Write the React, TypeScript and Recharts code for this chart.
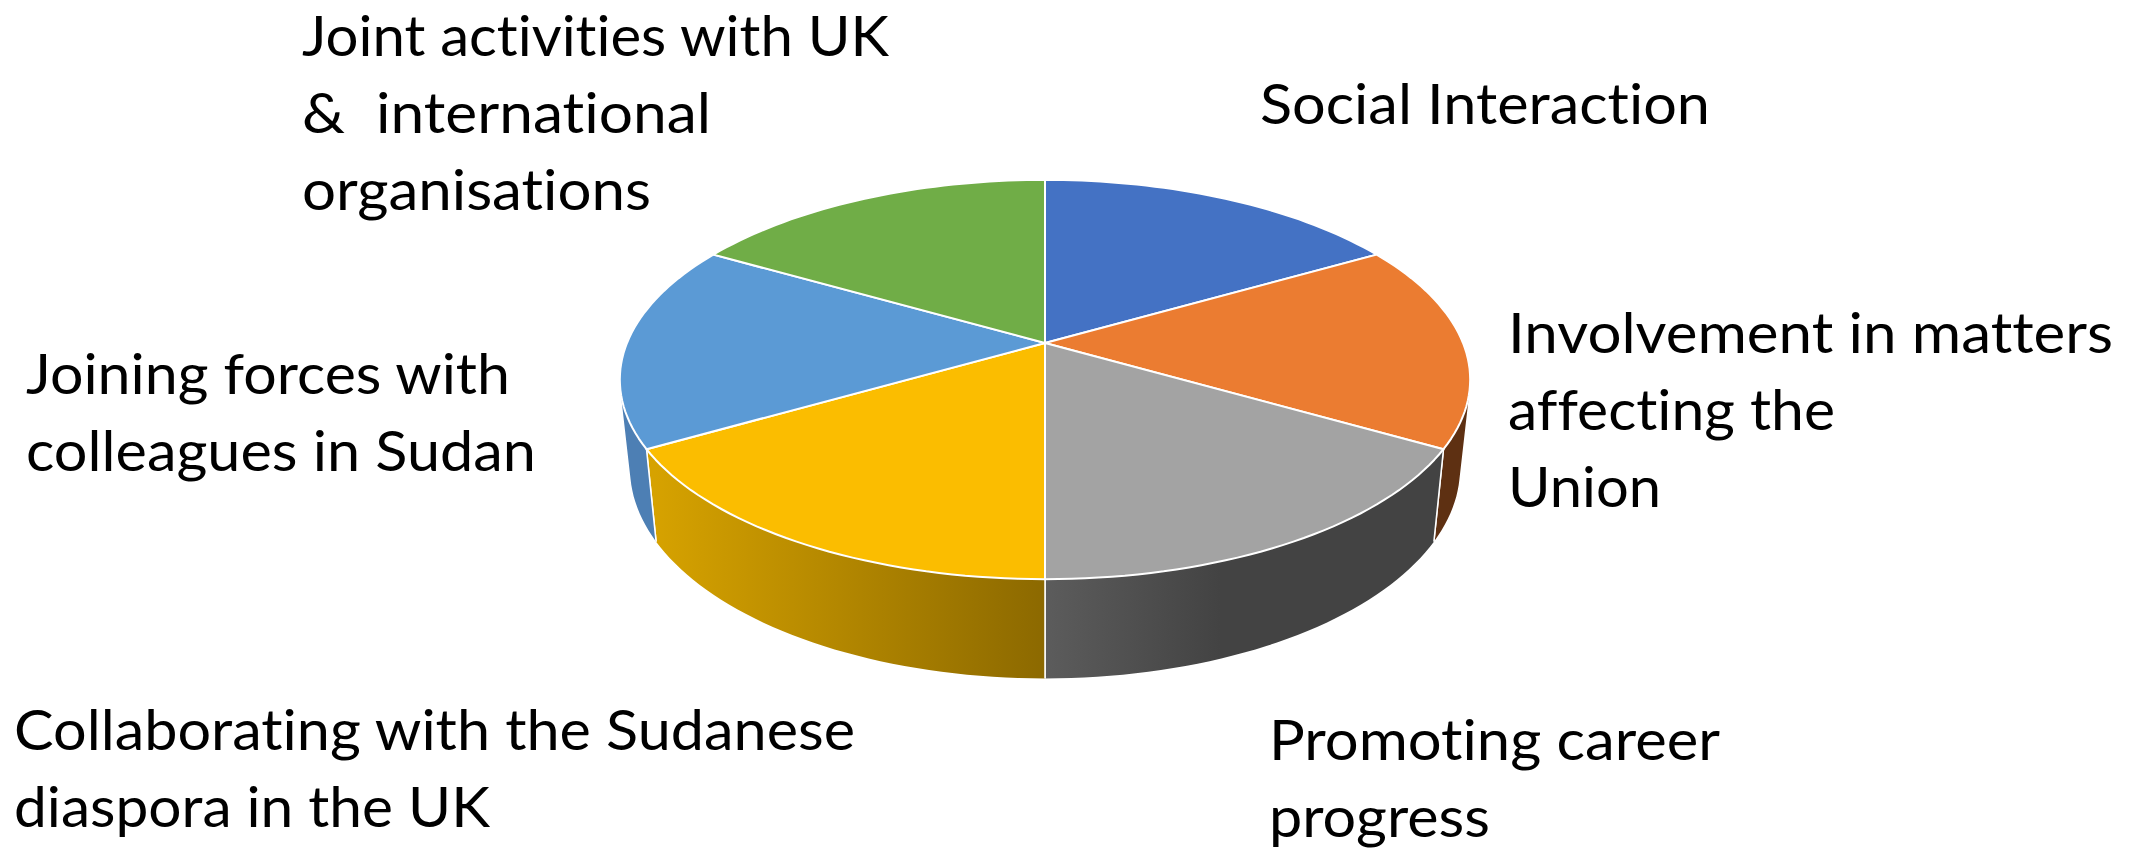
import React from 'react';
import { PieChart, Pie, Cell } from 'recharts';

const CATEGORIES = [
  'Social Interaction',
  'Involvement in matters affecting the Union',
  'Promoting career progress',
  'Collaborating with the Sudanese diaspora in the UK',
  'Joining forces with colleagues in Sudan',
  'Joint activities with UK & international organisations',
];
const VALUES = [1, 1, 1, 1, 1, 1];
const TOP_COLORS = ['#4472C4', '#EB7C31', '#A3A3A3', '#FBBD00', '#5B9AD5', '#70AD47'];
const WALL_COLORS = ['#2F528F', '#5E3012', 'url(#greyWall)', 'url(#yellowWall)', '#4D7FB4', '#507D33'];
const LABEL_LINES = [
  ['Social Interaction'],
  ['Involvement in matters', 'affecting the', 'Union'],
  ['Promoting career', 'progress'],
  ['Collaborating with the Sudanese', 'diaspora in the UK'],
  ['Joining forces with', 'colleagues in Sudan'],
  ['Joint activities with UK', '&  international', 'organisations'],
];
// measured width of each label line, the font here is not the original one
const LABEL_WIDTHS = [
  [450],
  [605, 327, 153],
  [451, 221],
  [841, 476],
  [484, 510],
  [587, 409, 349],
];
// left edge and first baseline of every label block
const LABEL_X = [1260, 1508, 1269, 14, 26, 302];
const LABEL_Y = [124, 353, 760, 750, 394, 56];
const LINE_GAP = 77;

const chartData = CATEGORIES.map((name, i) => ({ name, value: VALUES[i] }));

// perspective of the top and bottom faces, as fractions of the radius
const TOP_FACE = { a: 1, d: 0.4617, b: 0.183, h: 0 };
const BOTTOM_FACE = { a: 0.976, d: 0.4856, b: 0.183, h: 0.208 };

const project = (face: typeof TOP_FACE, cx: number, cy: number, r: number, angle: number) => {
  const rad = (angle * Math.PI) / 180;
  const w = 1 + face.b * Math.sin(rad);
  return [
    cx + (r * face.a * Math.cos(rad)) / w,
    cy + r * face.h - (r * face.d * Math.sin(rad)) / w,
  ];
};

const arc = (face: typeof TOP_FACE, p: any) => {
  const pts = [];
  const n = 40;
  for (let i = 0; i <= n; i++) {
    const angle = p.startAngle + ((p.endAngle - p.startAngle) * i) / n;
    pts.push(project(face, p.cx, p.cy, p.outerRadius, angle));
  }
  return pts;
};

const toPath = (pts: number[][]) =>
  'M' + pts.map((q) => q[0].toFixed(1) + ' ' + q[1].toFixed(1)).join('L') + 'Z';

const area = (q: number[][]) => {
  let s = 0;
  q.forEach((a, i) => {
    const b = q[(i + 1) % q.length];
    s += a[0] * b[1] - b[0] * a[1];
  });
  return s;
};

const TopFace = (p: any) => (
  <path
    d={toPath([[p.cx, p.cy], ...arc(TOP_FACE, p)])}
    fill={p.fill}
    stroke="#ffffff"
    strokeWidth={2}
    strokeLinejoin="round"
  />
);

// the wall is a strip of small quads so the curved side silhouette stays filled
const Wall = (p: any) => {
  const top = arc(TOP_FACE, p);
  const bottom = arc(BOTTOM_FACE, p);
  let d = '';
  for (let i = 0; i < top.length - 1; i++) {
    const quad = [top[i], top[i + 1], bottom[i + 1], bottom[i]];
    d += toPath(area(quad) < 0 ? quad.reverse() : quad);
  }
  const last = top.length - 1;
  return (
    <g>
      <path d={d} fill={p.fill} stroke="none" />
      <path d={toPath([top[0], bottom[0]])} stroke="#ffffff" strokeWidth={1.5} fill="none" />
      <path d={toPath([top[last], bottom[last]])} stroke="#ffffff" strokeWidth={1.5} fill="none" />
    </g>
  );
};

const renderLabel = (p: any) => (
  <g key={p.index}>
    {LABEL_LINES[p.index].map((line, i) => (
      <text
        key={i}
        x={LABEL_X[p.index]}
        y={LABEL_Y[p.index] + i * LINE_GAP}
        fill="#000000"
        fontSize={56}
        fontFamily="Lato, sans-serif"
        textAnchor="start"
        textLength={LABEL_WIDTHS[p.index][i]}
        lengthAdjust="spacingAndGlyphs"
        style={{ whiteSpace: 'pre', fontVariantLigatures: 'none' }}
      >
        {line}
      </text>
    ))}
  </g>
);

const App = () => (
  <div style={{ position: 'fixed', left: 0, top: 0, width: 2144, height: 848, background: '#ffffff', overflow: 'hidden' }}>
    <PieChart width={2144} height={848} margin={{ top: 0, right: 0, bottom: 0, left: 0 }}>
      <defs>
        <linearGradient id="yellowWall" gradientUnits="userSpaceOnUse" x1={655} y1={0} x2={1045} y2={0}>
          <stop offset="0%" stopColor="#D6A200" />
          <stop offset="100%" stopColor="#8C6900" />
        </linearGradient>
        <linearGradient id="greyWall" gradientUnits="userSpaceOnUse" x1={1045} y1={0} x2={1220} y2={0}>
          <stop offset="0%" stopColor="#5C5C5C" />
          <stop offset="100%" stopColor="#434343" />
        </linearGradient>
      </defs>
      <Pie
        data={chartData}
        dataKey="value"
        cx={1045}
        cy={343}
        outerRadius={418}
        startAngle={90}
        endAngle={-270}
        stroke="none"
        isAnimationActive={false}
        shape={Wall}
        inactiveShape={Wall}
        activeShape={Wall}
      >
        {chartData.map((d, i) => (
          <Cell key={d.name} fill={WALL_COLORS[i]} />
        ))}
      </Pie>
      <Pie
        data={chartData}
        dataKey="value"
        cx={1045}
        cy={343}
        outerRadius={418}
        startAngle={90}
        endAngle={-270}
        stroke="none"
        isAnimationActive={false}
        shape={TopFace}
        inactiveShape={TopFace}
        activeShape={TopFace}
        label={renderLabel}
        labelLine={false}
      >
        {chartData.map((d, i) => (
          <Cell key={d.name} fill={TOP_COLORS[i]} />
        ))}
      </Pie>
    </PieChart>
  </div>
);

export default App;
